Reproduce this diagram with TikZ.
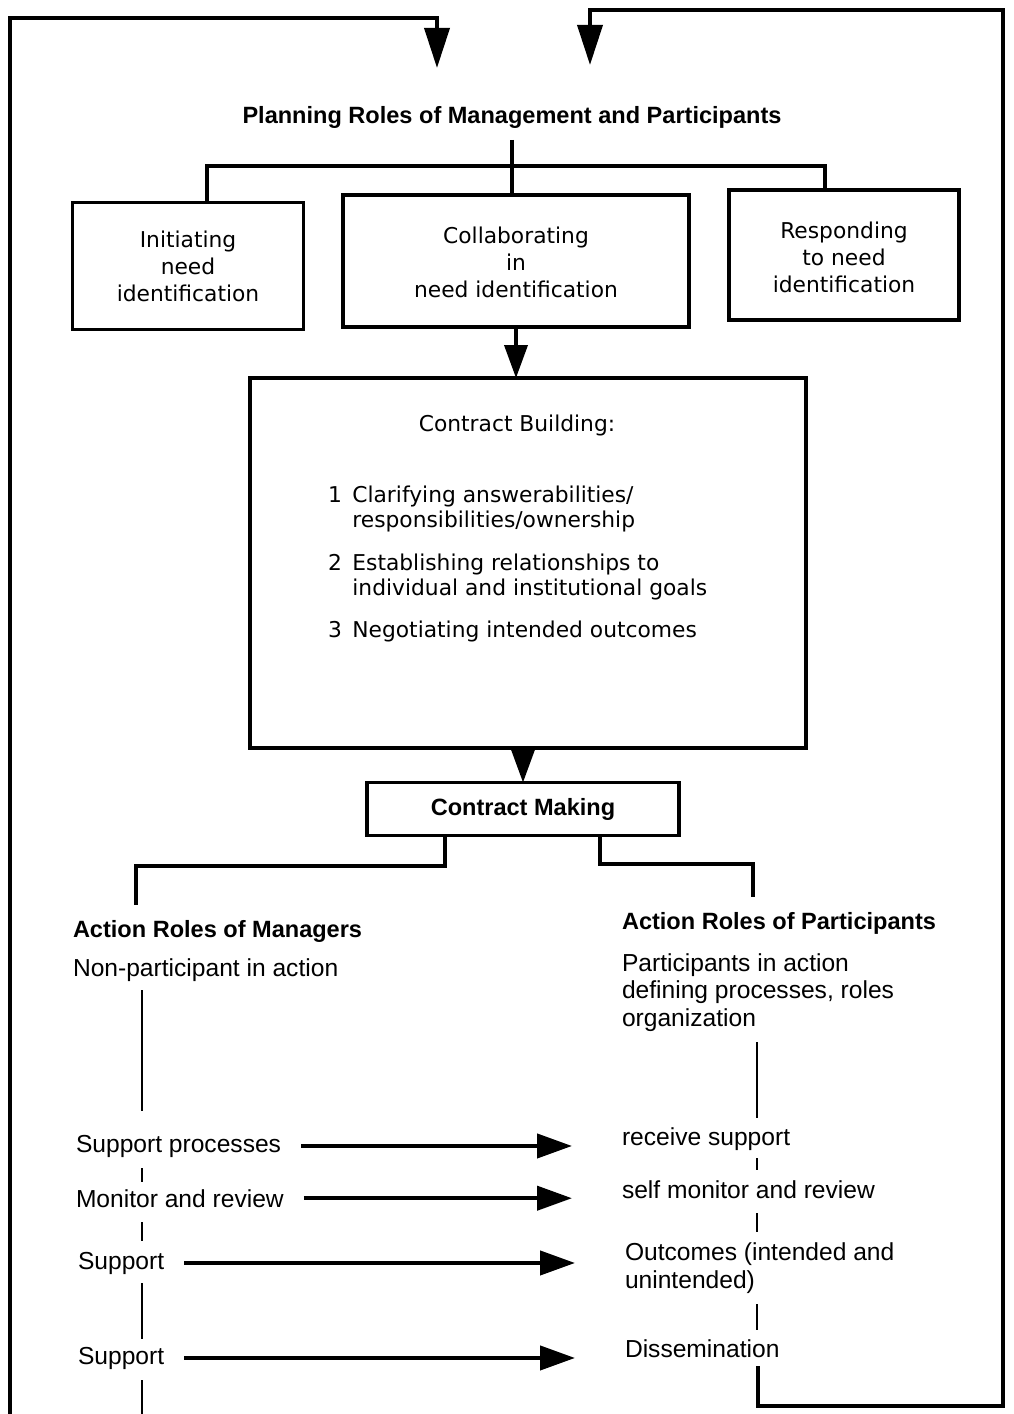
\documentclass[tikz,border=0pt]{standalone}
\usepackage{fontspec}
\setmainfont{Liberation Sans}
\newfontfamily\widesans{DejaVu Sans}
\usetikzlibrary{arrows.meta}
% type sizes
\newcommand\fBox{\widesans\fontsize{12.4pt}{15.3pt}\selectfont}
\newcommand\fItem{\widesans\fontsize{12.4pt}{14.7pt}\selectfont}
\newcommand\fHead{\bfseries\fontsize{13.4pt}{16pt}\selectfont}
\newcommand\fBody{\fontsize{14pt}{15.9pt}\selectfont}
\newcommand\fBodyB{\fontsize{14pt}{16.4pt}\selectfont}
% centred block of lines, lowered by #1 inside its box
\newcommand\boxlines[2]{\raisebox{#1}[0pt][0pt]{\begin{tabular}{@{}c@{}}#2\end{tabular}}}
\begin{document}
\begin{tikzpicture}[x=0.02cm, y=-0.02cm,
  every node/.style={inner sep=0pt, outer sep=0pt},
  box/.style={draw, line width=2.2pt, align=center, font=\fBox},
  head/.style={font=\fHead},
  body/.style={font=\fBody},
  item/.style={font=\fItem},
  conn/.style={line width=2.1pt, line join=miter},
  col/.style={line width=1.5pt},
  bigtip/.style={-{Triangle[length=0.8cm,width=0.5cm]}},
  midtip/.style={-{Triangle[length=0.66cm,width=0.46cm]}},
  sidetip/.style={-{Triangle[length=0.7cm,width=0.48cm]}},
  flow/.style={conn, line width=2.4pt, sidetip, shorten <=0.4cm, shorten >=1cm}]

\fill[white] (0,0) rectangle (1014,1414);
\useasboundingbox (0,0) rectangle (1014,1414);

% ---- planning level ----
\node[head, anchor=base] (plan) at (512,123) {Planning Roles of Management and Participants};
\node[box, minimum width=4.62cm, minimum height=2.54cm] (init) at (188,266) {\boxlines{-4.8pt}{Initiating\\need\\identification}};
\node[box, minimum width=6.92cm, minimum height=2.64cm] (collab) at (516,261) {\boxlines{-5.3pt}{Collaborating\\in\\need identification}};
\node[box, minimum width=4.6cm, minimum height=2.6cm] (resp) at (844,255) {\boxlines{-5.9pt}{Responding\\to need\\identification}};

% ---- contract building ----
\node[box, minimum width=11.12cm, minimum height=7.4cm] (cb) at (528,563) {};
\node[item, anchor=base] (cbt) at (517,431) {Contract Building:};
\node[item, anchor=base west] (it1) at (328,502)
  {\begin{tabular}[t]{@{}l@{\hspace{6pt}}l@{}}1 & Clarifying answerabilities/\\ & responsibilities/ownership\end{tabular}};
\node[item, anchor=base west] (it2) at (328,570)
  {\begin{tabular}[t]{@{}l@{\hspace{6pt}}l@{}}2 & Establishing relationships to\\ & individual and institutional goals\end{tabular}};
\node[item, anchor=base west] (it3) at (328,637)
  {\begin{tabular}[t]{@{}l@{\hspace{6pt}}l@{}}3 & Negotiating intended outcomes\end{tabular}};

\node[draw, line width=2.2pt, minimum width=6.24cm, minimum height=1.06cm, font=\fHead] (cm) at (523,809) {Contract Making};

% ---- action roles ----
\node[head, anchor=base west] (amgr) at (73,937) {Action Roles of Managers};
\node[body, anchor=base west] (npa) at (73,976) {Non-participant in action};
\node[head, anchor=base west] (apart) at (622,929) {Action Roles of Participants};
\node[body, anchor=base west] (pia) at (622,971)
  {\begin{tabular}[t]{@{}l@{}}Participants in action\\defining processes, roles\\organization\end{tabular}};

\node[body, anchor=base west] (sp) at (76,1152) {Support processes};
\node[body, anchor=base west] (mr) at (76,1207) {Monitor and review};
\node[body, anchor=base west] (s1) at (78,1269) {Support};
\node[body, anchor=base west] (s2) at (78,1364) {Support};

\node[body, anchor=base west] (rs) at (622,1145) {receive support};
\node[body, anchor=base west] (smr) at (622,1198) {self monitor and review};
\node[font=\fBodyB, anchor=base west] (out) at (625,1260)
  {\begin{tabular}[t]{@{}l@{}}Outcomes (intended and\\unintended)\end{tabular}};
\node[body, anchor=base west] (dis) at (625,1357) {Dissemination};

% ---- routing points ----
\coordinate (loopLb) at (10,1414);
\coordinate (loopLt) at (10,18);
\coordinate (loopLa) at (437,18);
\coordinate (loopRa) at (590,10);
\coordinate (loopRt) at (1003,10);
\coordinate (loopRb) at (1003,1406);
\coordinate (colRb) at (758,1406);
\coordinate (colL) at (142,1414);
\coordinate (colR) at (757,0);
\coordinate (brL) at (207,166);
\coordinate (brR) at (825,166);
\coordinate (cmL) at (445,866);
\coordinate (cmLL) at (136,866);
\coordinate (cmR) at (600,864);
\coordinate (cmRR) at (753,864);

% ---- feedback loops ----
\draw[conn, bigtip, shorten >=0.76cm] (loopLb) -- (loopLt) -- (loopLa) -- (loopLa |- plan.north);
\draw[conn, bigtip, shorten <=0.18cm, shorten >=0.82cm]
  (dis.south -| colRb) -- (colRb) -- (loopRb) -- (loopRt) -- (loopRa) -- (loopRa |- plan.north);

% ---- planning tree ----
\draw[conn, shorten <=0.24cm] (plan.south) -- (plan.south |- collab.north);
\draw[conn] (init.north -| brL) -- (brL) -- (brR) -- (resp.north -| brR);
\draw[conn, midtip] (collab.south) -- (collab.south |- cb.north);
\draw[conn, midtip] (cm.north |- cb.south) -- (cm.north);

% ---- split into the two action columns ----
\draw[conn, shorten >=0.3cm] (cm.south -| cmL) -- (cmL) -- (cmLL) -- (amgr.north -| cmLL);
\draw[conn, shorten >=0.3cm] (cm.south -| cmR) -- (cmR) -- (cmRR) -- (apart.north -| cmRR);

% ---- managers' column ----
\draw[col, shorten <=0.18cm, shorten >=0.48cm] (npa.south -| colL) -- (sp.north -| colL);
\draw[col, shorten <=0.22cm, shorten >=0.14cm] (sp.south -| colL) -- (mr.north -| colL);
\draw[col, shorten <=0.3cm, shorten >=0.22cm] (mr.south -| colL) -- (s1.north -| colL);
\draw[col, shorten <=0.18cm, shorten >=0.16cm] (s1.south -| colL) -- (s2.north -| colL);
\draw[col, shorten <=0.22cm] (s2.south -| colL) -- (colL);

% ---- participants' column ----
\draw[col, shorten <=0.14cm, shorten >=0.18cm] (pia.south -| colR) -- (rs.north -| colR);
\draw[col, shorten <=0.16cm, shorten >=0.2cm] (rs.south -| colR) -- (smr.north -| colR);
\draw[col, shorten <=0.3cm, shorten >=0.16cm] (smr.south -| colR) -- (out.north -| colR);
\draw[col, shorten <=0.14cm, shorten >=0.18cm] (out.south -| colR) -- (dis.north -| colR);

% ---- support flows ----
\draw[flow] (sp.east) -- (sp.east -| rs.west);
\draw[flow] (mr.east) -- (mr.east -| smr.west);
\draw[flow] (s1.east) -- (s1.east -| out.west);
\draw[flow] (s2.east) -- (s2.east -| dis.west);
\end{tikzpicture}
\end{document}
